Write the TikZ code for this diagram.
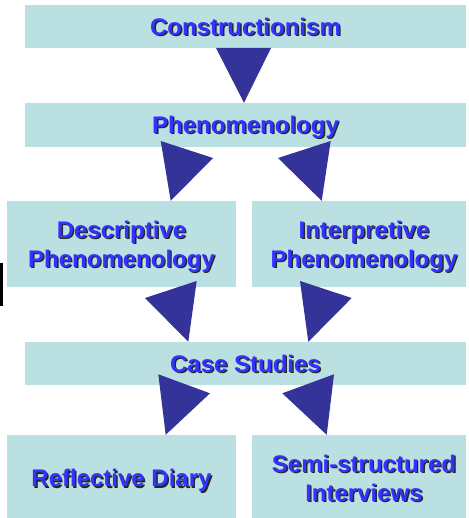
\documentclass[tikz,border=0pt]{standalone}
\usepackage{fontspec}
\setmainfont{Liberation Sans}
\usetikzlibrary{calc}

\definecolor{boxcyan}{HTML}{BAE0E2}
\definecolor{textblue}{HTML}{3333FF}
\definecolor{arrowblue}{HTML}{333399}

% blue text with a dark drop shadow
\newcommand{\shtext}[1]{\makebox[0pt][l]{\hspace{1.4pt}\raisebox{-1.4pt}{\color{black!85}#1}}{\color{textblue}#1}}
% same, pushed a little to the right
\newcommand{\shtextr}[1]{\hspace*{10pt}\shtext{#1}}

\tikzset{
    box/.style={fill=boxcyan, inner sep=0pt, font=\fontsize{24}{29}\selectfont\bfseries,
                align=center, text depth=0pt},
    onebox/.style={box, text height=17.2pt},
    twobox/.style={box, text height=46.2pt},
    tri/.style={fill=arrowblue}
}

\begin{document}
\begin{tikzpicture}[x=1pt, y=-1pt]
    \clip (0,0) rectangle (468,518);

    % Boxes
    \node[onebox, minimum width=441pt, minimum height=43pt] (constr) at (245.5,26.5) {\shtext{Constructionism}};
    \node[onebox, minimum width=441pt, minimum height=44pt] (phen) at (245.5,125) {\shtext{Phenomenology}};
    \node[twobox, minimum width=229pt, minimum height=86pt] (desc) at (121.5,244) {\shtext{Descriptive}\\\shtext{Phenomenology}};
    \node[twobox, minimum width=214pt, minimum height=86pt] (interp) at (359,244) {\shtextr{Interpretive}\\\shtextr{Phenomenology}};
    \node[onebox, minimum width=441pt, minimum height=43pt] (case) at (245.5,363.5) {\shtext{Case Studies}};
    \node[onebox, minimum width=229pt, minimum height=86pt] (diary) at (121.5,478) {\shtext{Reflective Diary}};
    \node[twobox, minimum width=214pt, minimum height=86pt] (semi) at (359,478) {\shtextr{Semi-structured}\\\shtextr{Interviews}};

    % Big arrow heads: first corner, second corner, tip on the target box
    \fill[tri] (216,48) -- (271,48) -- (244,0 |- phen.north) -- cycle;
    \fill[tri] (160.7,141) -- (213,158) -- (170.7,0 |- desc.north) -- cycle;
    \fill[tri] (330.7,141) -- (278,158) -- (321.7,0 |- interp.north) -- cycle;
    \fill[tri] (196.7,281) -- (145,298) -- (188.3,0 |- case.north) -- cycle;
    \fill[tri] (300,281) -- (351.7,298) -- (308.3,0 |- case.north) -- cycle;
    \fill[tri] (158.3,374.3) -- (210,393.3) -- (165.7,0 |- diary.north) -- cycle;
    \fill[tri] (334,374.3) -- (282.3,393.3) -- (326.7,0 |- semi.north) -- cycle;

    % stray black mark at the left edge
    \fill[black] (0,263) rectangle (2.7,306);
\end{tikzpicture}
\end{document}
